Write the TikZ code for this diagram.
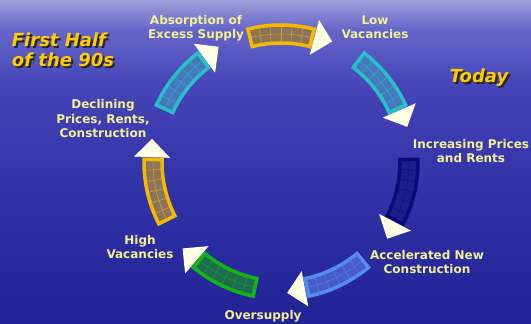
\documentclass[tikz,border=0pt]{standalone}
\usepackage{fontspec}
\setmainfont{DejaVu Sans}
\usepackage{xcolor}
\usetikzlibrary{positioning}

\definecolor{labelyellow}{RGB}{242,240,148}
\definecolor{titlegold}{RGB}{255,204,0}
\definecolor{arrowcream}{RGB}{255,255,228}
% ring colours: border / inner fill
\definecolor{goldring}{RGB}{245,185,0}
\definecolor{goldfill}{RGB}{140,116,92}
\definecolor{tealring}{RGB}{40,192,200}
\definecolor{tealfill}{RGB}{70,120,190}
\definecolor{navyring}{RGB}{10,10,120}
\definecolor{navyfill}{RGB}{28,28,140}
\definecolor{skyring}{RGB}{84,140,240}
\definecolor{skyfill}{RGB}{72,92,200}
\definecolor{greenring}{RGB}{20,180,20}
\definecolor{greenfill}{RGB}{30,108,80}

% sea background, light haze at the top (path spans 25bp..75bp)
\pgfdeclareverticalshading{sea}{100bp}{
    rgb(0bp)=(0.133,0.133,0.590);
    rgb(25bp)=(0.133,0.133,0.590);
    rgb(46.6bp)=(0.200,0.200,0.660);
    rgb(62bp)=(0.270,0.270,0.720);
    rgb(70.5bp)=(0.400,0.400,0.790);
    rgb(75bp)=(0.620,0.620,0.860);
    rgb(100bp)=(0.620,0.620,0.860)
}

\begin{document}
\begin{tikzpicture}[
        x=1pt, y=1pt,
        phase/.style={
            font=\bfseries\fontsize{12}{14.5}\selectfont,
            text=labelyellow,
            align=center,
            inner sep=0pt
        },
        era/.style={
            font=\bfseries\itshape\fontsize{18}{20}\selectfont,
            text=titlegold,
            align=left,
            inner sep=0pt
        }
    ]
    % --- FONDO ---
    \useasboundingbox (0,0) rectangle (531,324);
    \fill[shading=sea] (0,0) rectangle (531,324);

    % --- ANILLO ---
    \begin{scope}[shift={(281,162)}]
        \foreach \c/\col in {90/gold, 38.57/teal, -12.86/navy, -64.29/sky, -115.71/green, -167.14/gold, 141.43/teal} {
            \pgfmathsetmacro{\aa}{\c+14}
            \pgfmathsetmacro{\ab}{\c-14}
            \pgfmathsetmacro{\ba}{\c-15}
            \pgfmathsetmacro{\bt}{\c-23}
            \filldraw[draw=\col ring, fill=\col fill, line width=3.5pt]
                (\aa:119) arc[start angle=\aa, end angle=\ab, radius=119]
                -- (\ab:137) arc[start angle=\ab, end angle=\aa, radius=137] -- cycle;
            \draw[\col ring, line width=0.5pt, opacity=0.7]
                (\aa:128) arc[start angle=\aa, end angle=\ab, radius=128];
            \foreach \k in {1,...,5} {
                \pgfmathsetmacro{\ak}{\aa-\k*28/6}
                \draw[\col ring, line width=0.5pt, opacity=0.7] (\ak:119) -- (\ak:137);
            }
            \fill[arrowcream] (\ba:111) -- (\ba:147) -- (\bt:131) -- cycle;
        }
    \end{scope}

    % --- ETAPAS ---
    \node[phase] (absorb) at (196,296) {Absorption of\\Excess Supply};
    \node[phase] (lowvac) at (375,297) {Low\\Vacancies};
    \node[phase] (rising) at (471,173) {Increasing Prices\\and Rents};
    \node[phase] (accel) at (427,62) {Accelerated New\\Construction};
    \node[phase, anchor=base] (over) at (263,4) {Oversupply};
    \node[phase] (highvac) at (140,77) {High\\Vacancies};
    \node[phase] (decline) at (103,205) {Declining\\Prices, Rents,\\Construction};

    % --- EPOCAS ---
    \node[era, text=black!85] (firsthalfshadow) at (65,272) {First Half\\of the 90s};
    \node[era] (firsthalf) at (63,274) {First Half\\of the 90s};
    \node[era, text=black!85] (todayshadow) at (481,244) {Today};
    \node[era] (today) at (479,246) {Today};
\end{tikzpicture}
\end{document}
